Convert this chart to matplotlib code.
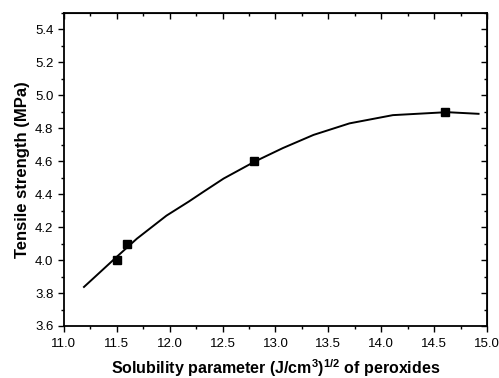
import matplotlib
matplotlib.use('Agg')
import matplotlib.pyplot as plt
from matplotlib.ticker import MultipleLocator

plt.rcParams['font.family'] = 'Liberation Sans'
plt.rcParams['mathtext.default'] = 'regular'

# measured samples
sol_param = [11.5, 11.6, 12.8, 14.6]
tensile = [4.0, 4.1, 4.6, 4.9]

# fitted curve, read along its length
fit_x = [11.19, 11.28, 11.50, 11.69, 11.97, 12.18, 12.32, 12.51, 12.81,
         13.07, 13.36, 13.70, 14.11, 14.62, 14.92]
fit_y = [3.837, 3.89, 4.02, 4.13, 4.27, 4.355, 4.415, 4.495, 4.60,
         4.68, 4.76, 4.83, 4.88, 4.898, 4.888]

y_ticks = [3.6, 3.8, 4.0, 4.2, 4.4, 4.6, 4.8, 5.0, 5.2, 5.4]

fig = plt.figure(figsize=(4.99, 3.78), dpi=100)
ax = fig.add_axes([0.128, 0.1376, 0.848, 0.828])

ax.plot(fit_x, fit_y, color='black', lw=1.4)
ax.plot(sol_param, tensile, 's', color='black', ms=5.3)

ax.set_xlim(11.0, 15.0)
ax.set_ylim(3.6, 5.5)
ax.xaxis.set_major_locator(MultipleLocator(0.5))
ax.xaxis.set_minor_locator(MultipleLocator(0.25))
ax.set_yticks(y_ticks)
ax.yaxis.set_minor_locator(MultipleLocator(0.1))

for s in ax.spines.values():
    s.set_linewidth(1.3)

ax.tick_params(which='both', width=1.0, labelsize=9.5, direction='out')
ax.tick_params(which='major', length=4.5)
ax.tick_params(which='minor', length=2.5)
ax.tick_params(axis='x', pad=4.5)
ax.tick_params(axis='y', pad=3)

# top and right ticks point inward
sec_x = ax.secondary_xaxis('top')
sec_x.set_xticks(ax.get_xticks())
sec_x.xaxis.set_minor_locator(MultipleLocator(0.25))
sec_x.tick_params(which='both', direction='in', labeltop=False, width=1.0)
sec_x.tick_params(which='major', length=4.5)
sec_x.tick_params(which='minor', length=2.5)
sec_y = ax.secondary_yaxis('right')
sec_y.set_yticks(y_ticks)
sec_y.yaxis.set_minor_locator(MultipleLocator(0.1))
sec_y.tick_params(which='both', direction='in', labelright=False, width=1.0)
sec_y.tick_params(which='major', length=4.5)
sec_y.tick_params(which='minor', length=2.5)

ax.set_xlabel(r'Solubility parameter (J/cm$^3$)$^{1/2}$ of peroxides',
              fontsize=11.5, fontweight='bold', labelpad=5)
ax.set_ylabel('Tensile strength (MPa)', fontsize=12, fontweight='bold', labelpad=4)

fig.savefig('out.png', dpi=100)
